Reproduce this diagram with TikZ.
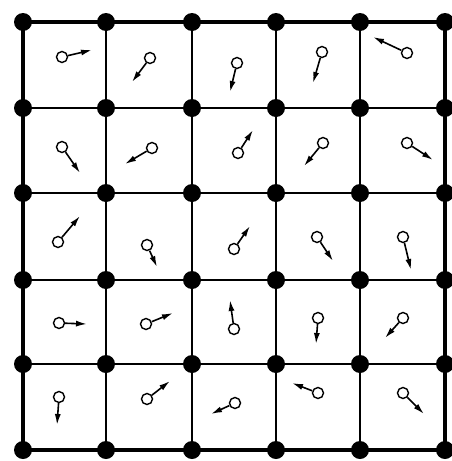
\documentclass[tikz,border=0pt]{standalone}
\usetikzlibrary{arrows.meta}
\pgfdeclarelayer{bg}
\pgfsetlayers{bg,main}
\begin{document}
\begin{tikzpicture}[x=1pt,y=-1pt,
  dot/.style={circle,fill=black,inner sep=0pt,minimum size=18pt},
  ring/.style={circle,draw=black,fill=white,line width=1.4pt,inner sep=0pt,minimum size=11pt},
  vec/.style={line width=1.6pt,-{Latex[length=11pt,width=6pt]}},
  gridline/.style={line width=1.7pt},
  border/.style={line width=4.5pt,line cap=round}]
\useasboundingbox (0,0) rectangle (451,461);
% lattice dots
\foreach \x [count=\i] in {23,106,192,276,360,445}
  \foreach \y [count=\j] in {22,108,193,280,364,450}
    \node[dot] (d\i-\j) at (\x,\y) {};
% grid lines
\begin{pgfonlayer}{bg}
  \foreach \j in {2,...,5} {
    \draw[gridline] (d1-\j.center) -- (d6-\j.center);
    \draw[gridline] (d\j-1.center) -- (d\j-6.center);
  }
  \draw[border] (d1-1.center) -- (d6-1.center) -- (d6-6.center) -- (d1-6.center) -- cycle;
\end{pgfonlayer}
% vectors in cells
\foreach \cx/\cy/\tx/\ty [count=\n] in {
  62/57/92/50, 150/58/132/82, 237/63/230/92, 322/52/313/83, 407/53/373/37,
  62/147/80/173, 152/148/125/164, 238/153/253/130, 323/143/304/166, 407/143/433/160,
  58/242/80/216, 147/245/157/267, 234/249/250/226, 317/237/333/261, 403/237/411/270,
  59/323/87/324, 146/324/173/313, 234/329/230/300, 318/318/316/344, 403/318/385/338,
  59/397/57/425, 147/399/170/381, 235/403/211/414, 318/393/292/383, 403/393/424/414} {
  \node[ring] (c\n) at (\cx,\cy) {};
  \coordinate (t\n) at (\tx,\ty);
  \draw[vec] (c\n) -- (t\n);
}
\end{tikzpicture}
\end{document}
